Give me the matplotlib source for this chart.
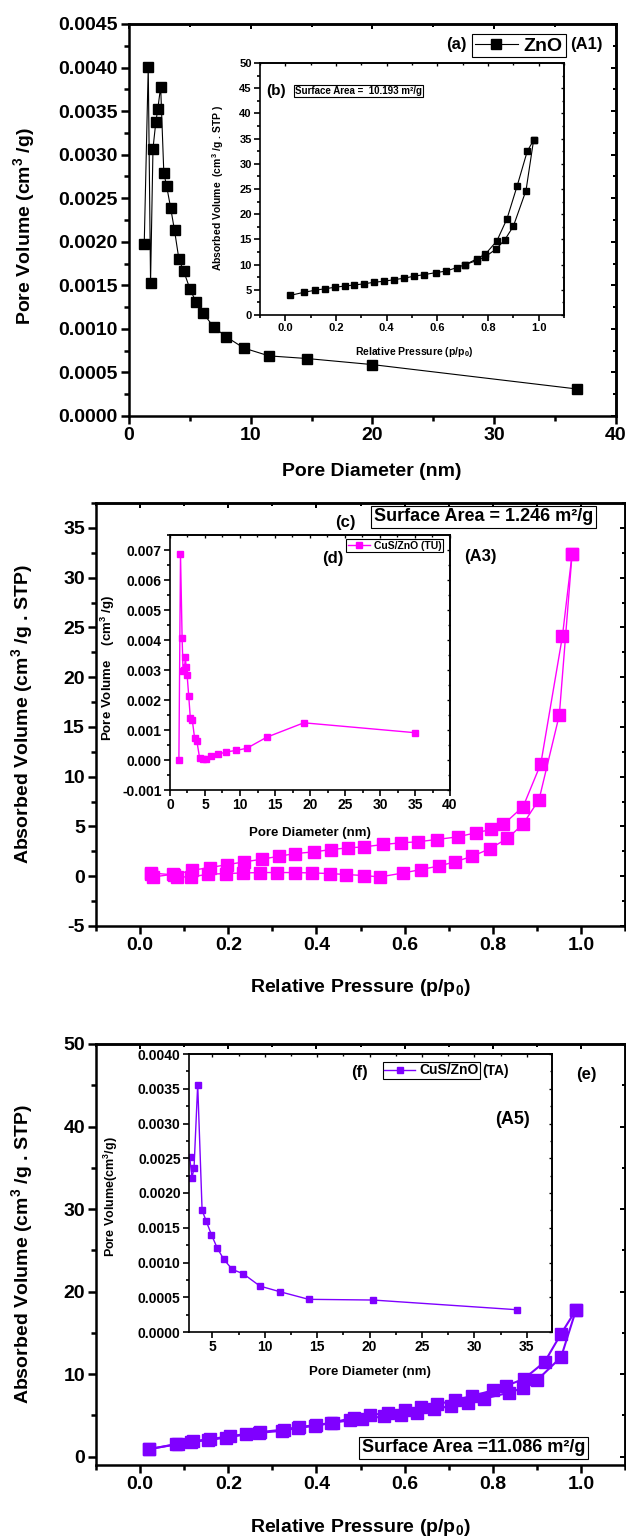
import numpy as np
import matplotlib
matplotlib.use("Agg")
import matplotlib.pyplot as plt
from matplotlib.ticker import MultipleLocator, NullFormatter, FormatStrFormatter
from matplotlib.lines import Line2D

plt.rcParams['font.family'] = ['Liberation Sans', 'DejaVu Sans']
plt.rcParams['font.weight'] = 'bold'
plt.rcParams['axes.unicode_minus'] = False
plt.rcParams['mathtext.fontset'] = 'custom'
plt.rcParams['mathtext.rm'] = 'Liberation Sans:bold'
plt.rcParams['mathtext.bf'] = 'Liberation Sans:bold'
plt.rcParams['mathtext.it'] = 'Liberation Sans:bold'

# ---- (a) ZnO pore size distribution
zno_d = [1.25, 1.58, 1.77, 1.97, 2.2, 2.36, 2.6, 2.86, 3.09, 3.42, 3.74, 4.1, 4.5,
         5.0, 5.5, 6.1, 6.96, 7.98, 9.43, 11.5, 14.6, 20.0, 36.8]
zno_v = [0.00197, 0.00401, 0.00153, 0.00307, 0.00337, 0.00352, 0.00378, 0.00279,
         0.00264, 0.00239, 0.00213, 0.00180, 0.00166, 0.00146, 0.00131, 0.00118,
         0.00102, 0.00091, 0.00078, 0.00069, 0.00066, 0.00059, 0.00031]

# ---- (b) ZnO isotherm
zno_ads_p = [0.02, 0.073, 0.116, 0.155, 0.196, 0.234, 0.272, 0.312, 0.351, 0.389, 0.429,
             0.468, 0.508, 0.547, 0.593, 0.633, 0.677, 0.71, 0.755, 0.79, 0.83, 0.866,
             0.9, 0.95, 0.98]
zno_ads_v = [3.9, 4.5, 4.9, 5.2, 5.5, 5.75, 5.95, 6.2, 6.5, 6.7, 7.0, 7.3, 7.7, 8.0, 8.4,
             8.7, 9.4, 10.0, 10.8, 11.6, 13.0, 14.9, 17.6, 24.7, 34.7]
zno_des_p = [0.98, 0.955, 0.915, 0.875, 0.835, 0.79, 0.755, 0.71]
zno_des_v = [34.7, 32.5, 25.6, 19.1, 14.7, 12.1, 11.1, 10.0]

# ---- (c) CuS/ZnO (TU) isotherm
tu_ads_p = [0.025, 0.03, 0.075, 0.083, 0.116, 0.154, 0.195, 0.234, 0.272, 0.311, 0.351,
            0.391, 0.43, 0.468, 0.508, 0.544, 0.597, 0.637, 0.679, 0.714, 0.753, 0.793,
            0.833, 0.868, 0.905, 0.951, 0.98]
tu_ads_v = [0.27, -0.07, 0.2, -0.07, -0.07, 0.2, 0.27, 0.33, 0.37, 0.37, 0.37, 0.33, 0.27,
            0.17, 0.07, -0.07, 0.33, 0.67, 1.04, 1.44, 2.0, 2.75, 3.8, 5.2, 7.7, 16.2, 32.4]
tu_des_p = [0.98, 0.958, 0.909, 0.869, 0.824, 0.797, 0.761, 0.721, 0.673, 0.630, 0.592,
            0.552, 0.508, 0.472, 0.433, 0.395, 0.352, 0.315, 0.276, 0.236, 0.198, 0.158,
            0.118, 0.077, 0.025]
tu_des_v = [32.4, 24.1, 11.3, 7.0, 5.2, 4.7, 4.36, 3.96, 3.69, 3.46, 3.36, 3.19, 2.95, 2.85,
            2.68, 2.45, 2.28, 2.01, 1.71, 1.44, 1.17, 0.87, 0.60, 0.13, 0.33]

# ---- (d) CuS/ZnO (TU) pore size distribution
tu_d = [1.27, 1.5, 1.73, 1.87, 2.05, 2.2, 2.3, 2.44, 2.67, 2.9, 3.19, 3.51, 3.84, 4.22,
        4.69, 5.2, 5.9, 6.84, 8.06, 9.47, 10.97, 13.82, 19.12, 35.0]
tu_v = [0.0, 0.00687, 0.00406, 0.00296, 0.00300, 0.00345, 0.00310, 0.00285, 0.00215,
        0.00141, 0.00132, 0.00074, 0.00063, 0.00008, 0.00002, 0.00002, 0.00013, 0.00019,
        0.00027, 0.00032, 0.00039, 0.00076, 0.00124, 0.00091]

# ---- (e) CuS/ZnO (TA) isotherm
ta_ads_p = [0.021, 0.086, 0.116, 0.154, 0.195, 0.24, 0.27, 0.322, 0.358, 0.397, 0.434,
            0.477, 0.504, 0.554, 0.592, 0.628, 0.666, 0.705, 0.744, 0.78, 0.837, 0.868,
            0.901, 0.955, 0.989]
ta_ads_v = [0.93, 1.53, 1.81, 2.0, 2.33, 2.7, 2.9, 3.14, 3.5, 3.74, 4.1, 4.42, 4.55, 4.9,
            5.1, 5.35, 5.75, 6.15, 6.56, 7.04, 7.76, 8.33, 9.3, 12.07, 17.8]
ta_des_p = [0.989, 0.955, 0.918, 0.871, 0.83, 0.80, 0.753, 0.714, 0.674, 0.637, 0.601,
            0.563, 0.522, 0.485, 0.437, 0.399, 0.361, 0.327, 0.272, 0.204, 0.159, 0.12,
            0.082, 0.021]
ta_des_v = [17.8, 14.9, 11.5, 9.45, 8.57, 8.04, 7.36, 6.84, 6.36, 6.03, 5.7, 5.35, 5.03,
            4.75, 4.14, 3.82, 3.62, 3.3, 2.98, 2.49, 2.13, 1.89, 1.53, 0.93]

# ---- (f) CuS/ZnO (TA) pore size distribution
ta_d = [2.82, 3.05, 3.24, 3.59, 4.01, 4.42, 4.9, 5.45, 6.06, 6.89, 7.91, 9.54, 11.43,
        14.18, 20.32, 34.1]
ta_v = [0.00252, 0.00222, 0.00236, 0.00356, 0.00175, 0.00159, 0.0014, 0.00121, 0.00105,
        0.0009, 0.00084, 0.00066, 0.00058, 0.00047, 0.00046, 0.00032]

W, H = 626, 1539
MAGENTA = '#FF00FF'
VIOLET = '#7F00FF'


def box(l, r, t, b):
    return [l / W, 1 - b / H, (r - l) / W, (b - t) / H]


def fx(x):
    return x / W


def fy(y):
    return 1 - y / H


def style(ax, xmaj, xmin, ymaj, ymin, fs, lw, L):
    ax.xaxis.set_major_locator(MultipleLocator(xmaj))
    ax.xaxis.set_minor_locator(MultipleLocator(xmin))
    ax.yaxis.set_major_locator(MultipleLocator(ymaj))
    ax.yaxis.set_minor_locator(MultipleLocator(ymin))
    ax.tick_params(which='both', direction='out', width=lw, labelsize=fs, pad=2)
    ax.tick_params(which='major', length=L)
    ax.tick_params(which='minor', length=L * 0.55)
    for s in ax.spines.values():
        s.set_linewidth(lw)
    # top / right: inward ticks, no labels
    top = ax.secondary_xaxis('top')
    top.xaxis.set_major_locator(MultipleLocator(xmaj))
    top.xaxis.set_minor_locator(MultipleLocator(xmin))
    top.xaxis.set_major_formatter(NullFormatter())
    top.tick_params(which='both', direction='in', width=lw * 0.8)
    top.tick_params(which='major', length=L * 0.6)
    top.tick_params(which='minor', length=L * 0.35)
    top.spines['top'].set_linewidth(lw)
    right = ax.secondary_yaxis('right')
    right.yaxis.set_major_locator(MultipleLocator(ymaj))
    right.yaxis.set_minor_locator(MultipleLocator(ymin))
    right.yaxis.set_major_formatter(NullFormatter())
    right.tick_params(which='both', direction='in', width=lw * 0.8)
    right.tick_params(which='major', length=L * 0.6)
    right.tick_params(which='minor', length=L * 0.35)
    right.spines['right'].set_linewidth(lw)


fig = plt.figure(figsize=(W / 100, H / 100), dpi=100)

# ================= panel 1 =================
ax1 = fig.add_axes(box(129, 616, 24, 416))
ax1.plot(zno_d, zno_v, '-', color='black', lw=0.8, marker='s', ms=7.5, mfc='black', mec='black')
ax1.set_xlim(0, 40)
ax1.set_ylim(0, 0.0045)
style(ax1, 10, 5, 0.0005, 0.00025, 14, 1.8, 6)
ax1.yaxis.set_major_formatter(FormatStrFormatter('%.4f'))
fig.text(fx(24), fy(226), 'Pore Volume (cm$^3$ /g)', rotation=90, ha='center', va='center', fontsize=14)
fig.text(fx(372), fy(472), 'Pore Diameter (nm)', ha='center', va='center', fontsize=14)
fig.text(fx(456), fy(44), '(a)', ha='center', va='center', fontsize=12)
fig.text(fx(586), fy(44), '(A1)', ha='center', va='center', fontsize=12)
h1 = Line2D([], [], color='black', lw=0.8, marker='s', ms=7, mfc='black')
ax1.legend([h1], ['ZnO'], loc='upper left', bbox_to_anchor=(fx(472), fy(34)),
           bbox_transform=fig.transFigure, borderaxespad=0, frameon=True, fancybox=False,
           edgecolor='black', framealpha=1, prop={'size': 14, 'weight': 'bold'},
           handlelength=2.2, handletextpad=0.3, borderpad=0.15).get_frame().set_linewidth(0.8)

axb = fig.add_axes(box(260, 564, 63, 315))
axb.plot(zno_ads_p, zno_ads_v, '-', color='black', lw=0.8, marker='s', ms=5, mfc='black', mec='black')
axb.plot(zno_des_p, zno_des_v, '-', color='black', lw=0.8, marker='s', ms=5, mfc='black', mec='black')
axb.set_xlim(-0.1, 1.1)
axb.set_ylim(0, 50)
style(axb, 0.2, 0.1, 5, 2.5, 8, 1.2, 4)
axb.xaxis.set_major_formatter(FormatStrFormatter('%.1f'))
fig.text(fx(218), fy(188), 'Absorbed Volume  (cm$^3$ /g . STP )', rotation=90, ha='center', va='center', fontsize=7.5)
fig.text(fx(414), fy(352), 'Relative Pressure (p/p$_0$)', ha='center', va='center', fontsize=7.5)
fig.text(fx(276), fy(91), '(b)', ha='center', va='center', fontsize=11)
fig.text(fx(295), fy(91), 'Surface Area =  10.193 m²/g', ha='left', va='center', fontsize=7,
         bbox=dict(boxstyle='square,pad=0.15', fc='white', ec='black', lw=0.8))

# ================= panel 2 =================
ax2 = fig.add_axes(box(96, 625, 503, 926))
ax2.plot(tu_ads_p, tu_ads_v, '-', color=MAGENTA, lw=1.0, marker='s', ms=8, mfc=MAGENTA, mec=MAGENTA)
ax2.plot(tu_des_p, tu_des_v, '-', color=MAGENTA, lw=1.0, marker='s', ms=8, mfc=MAGENTA, mec=MAGENTA)
ax2.set_xlim(-0.1, 1.1)
ax2.set_ylim(-5, 37.5)
style(ax2, 0.2, 0.1, 5, 2.5, 14, 1.8, 6)
ax2.xaxis.set_major_formatter(FormatStrFormatter('%.1f'))
fig.text(fx(22), fy(714), 'Absorbed Volume (cm$^3$ /g . STP)', rotation=90, ha='center', va='center', fontsize=14)
fig.text(fx(360), fy(987), 'Relative Pressure (p/p$_0$)', ha='center', va='center', fontsize=14)
fig.text(fx(345), fy(522), '(c)', ha='center', va='center', fontsize=12)
fig.text(fx(374), fy(517), 'Surface Area = 1.246 m²/g', ha='left', va='center', fontsize=13,
         bbox=dict(boxstyle='square,pad=0.15', fc='white', ec='black', lw=0.8))
fig.text(fx(480), fy(557), '(A3)', ha='center', va='center', fontsize=12)

axd = fig.add_axes(box(170, 450, 535, 790))
axd.plot(tu_d, tu_v, '-', color=MAGENTA, lw=1.0, marker='s', ms=4, mfc=MAGENTA, mec=MAGENTA)
axd.set_xlim(0, 40)
axd.set_ylim(-0.001, 0.0075)
style(axd, 5, 2.5, 0.001, 0.0005, 10, 1.2, 4)
axd.yaxis.set_major_formatter(FormatStrFormatter('%.3f'))
fig.text(fx(108), fy(668), 'Pore Volume    (cm$^3$ /g)', rotation=90, ha='center', va='center', fontsize=9.5)
fig.text(fx(310), fy(833), 'Pore Diameter (nm)', ha='center', va='center', fontsize=9.5)
fig.text(fx(333), fy(558), '(d)', ha='center', va='center', fontsize=12)
h2 = Line2D([], [], color=MAGENTA, lw=1.0, marker='s', ms=5, mfc=MAGENTA, mec=MAGENTA)
axd.legend([h2], ['CuS/ZnO (TU)'], loc='upper left', bbox_to_anchor=(fx(346), fy(539)),
           bbox_transform=fig.transFigure, borderaxespad=0, frameon=True, fancybox=False,
           edgecolor='black', framealpha=1, prop={'size': 7.5, 'weight': 'bold'},
           handlelength=2.2, handletextpad=0.3, borderpad=0.15).get_frame().set_linewidth(0.8)

# ================= panel 3 =================
ax3 = fig.add_axes(box(96, 625, 1044, 1465))
ax3.plot(ta_ads_p, ta_ads_v, '-', color=VIOLET, lw=1.5, marker='s', ms=8, mfc=VIOLET, mec=VIOLET)
ax3.plot(ta_des_p, ta_des_v, '-', color=VIOLET, lw=1.5, marker='s', ms=8, mfc=VIOLET, mec=VIOLET)
ax3.set_xlim(-0.1, 1.1)
ax3.set_ylim(-1, 50)
style(ax3, 0.2, 0.1, 10, 5, 14, 1.8, 6)
ax3.xaxis.set_major_formatter(FormatStrFormatter('%.1f'))
fig.text(fx(22), fy(1254), 'Absorbed Volume (cm$^3$ /g . STP)', rotation=90, ha='center', va='center', fontsize=14)
fig.text(fx(360), fy(1527), 'Relative Pressure (p/p$_0$)', ha='center', va='center', fontsize=14)
fig.text(fx(586), fy(1074), '(e)', ha='center', va='center', fontsize=12)
fig.text(fx(362), fy(1448), 'Surface Area =11.086 m²/g', ha='left', va='center', fontsize=13,
         bbox=dict(boxstyle='square,pad=0.15', fc='white', ec='black', lw=0.8))

axf = fig.add_axes(box(189, 552, 1054, 1332))
axf.plot(ta_d, ta_v, '-', color=VIOLET, lw=1.0, marker='s', ms=4.5, mfc=VIOLET, mec=VIOLET)
axf.set_xlim(2.76, 37.4)
axf.set_ylim(0, 0.004)
style(axf, 5, 2.5, 0.0005, 0.00025, 10, 1.2, 4)
axf.yaxis.set_major_formatter(FormatStrFormatter('%.4f'))
fig.text(fx(111), fy(1197), 'Pore Volume(cm$^3$/g)', rotation=90, ha='center', va='center', fontsize=9)
fig.text(fx(370), fy(1372), 'Pore Diameter (nm)', ha='center', va='center', fontsize=9.5)
fig.text(fx(360), fy(1073), '(f)', ha='center', va='center', fontsize=12)
fig.text(fx(512), fy(1120), '(A5)', ha='center', va='center', fontsize=13)
h3 = Line2D([], [], color=VIOLET, lw=1.0, marker='s', ms=5, mfc=VIOLET, mec=VIOLET)
axf.legend([h3], ['CuS/ZnO'], loc='upper left', bbox_to_anchor=(fx(383), fy(1062)),
           bbox_transform=fig.transFigure, borderaxespad=0, frameon=True, fancybox=False,
           edgecolor='black', framealpha=1, prop={'size': 10, 'weight': 'bold'},
           handlelength=2.2, handletextpad=0.3, borderpad=0.1).get_frame().set_linewidth(0.8)
fig.text(fx(496), fy(1071), '(TA)', ha='center', va='center', fontsize=10)

fig.savefig('out.png', dpi=100)
